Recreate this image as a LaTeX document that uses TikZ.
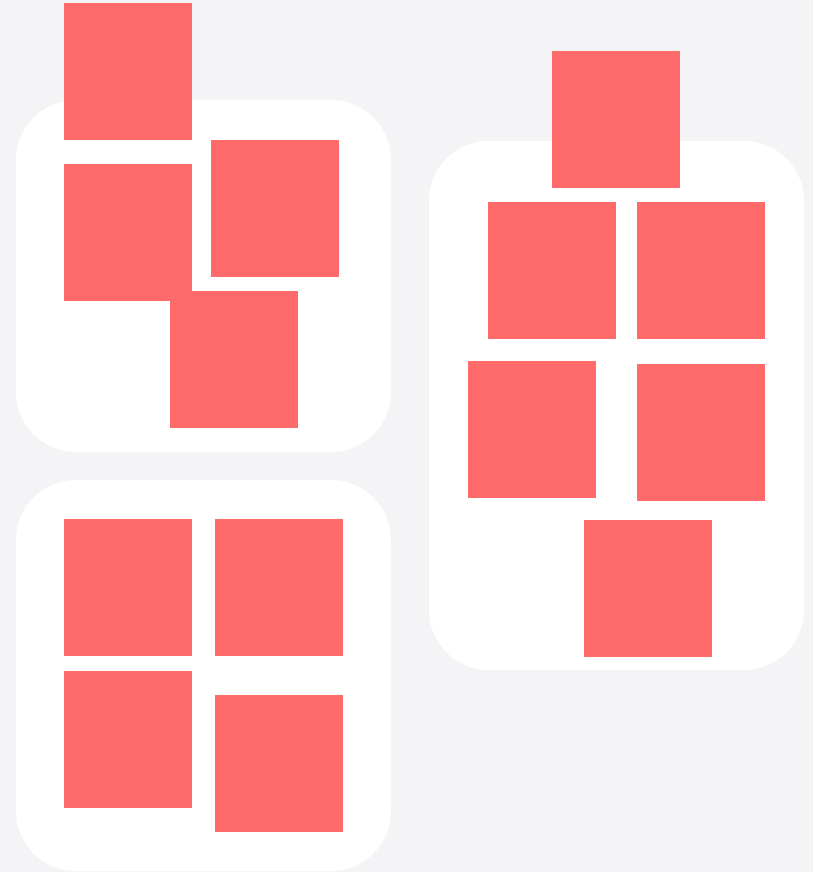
\documentclass[tikz,border=0pt]{standalone}
\usepackage{tikz}
\definecolor{pagegray}{RGB}{244, 244, 246}
\definecolor{tilered}{RGB}{255, 107, 107}

\begin{document}
\begin{tikzpicture}[x=1pt, y=-1pt,
				panel/.style={fill=white, rounded corners=60pt},
				tile/.style={rectangle, fill=tilered, minimum width=128pt, minimum height=137pt, inner sep=0pt, outer sep=0pt}]
				%Hintergrund
				\fill[pagegray] (0,0) rectangle (813,872);
				\useasboundingbox (0,0) rectangle (813,872);
				% Karten zeichnen
				\fill[panel] (16,100) rectangle (391,452);
				\fill[panel] (16,480) rectangle (391,871);
				\fill[panel] (429,141) rectangle (804,670);
				% Kacheln links oben
				\node[tile] (a1) at (128,71.5) {};
				\node[tile] (a2) at (128,232.5) {};
				\node[tile] (a3) at (275,208.5) {};
				\node[tile] (a4) at (234,359.5) {};
				% Kacheln links unten
				\node[tile] (b1) at (128,587.5) {};
				\node[tile] (b2) at (279,587.5) {};
				\node[tile] (b3) at (128,739.5) {};
				\node[tile] (b4) at (279,763.5) {};
				% Kacheln rechts
				\node[tile] (c1) at (616,119.5) {};
				\node[tile] (c2) at (552,270) {};
				\node[tile] (c3) at (701,270) {};
				\node[tile] (c4) at (532,429.5) {};
				\node[tile] (c5) at (701,432.5) {};
				\node[tile] (c6) at (648,588.5) {};
			\end{tikzpicture}
\end{document}
